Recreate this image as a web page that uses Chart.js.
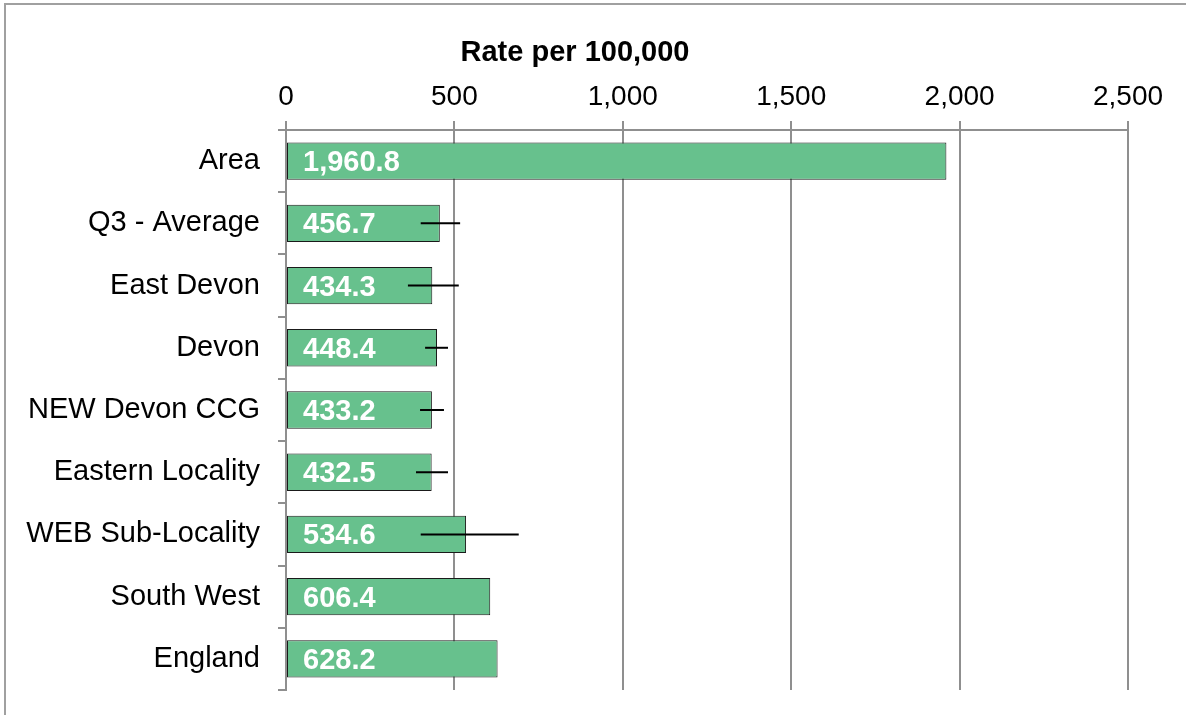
<!DOCTYPE html>
<html>
<head>
<meta charset="utf-8">
<script src="https://cdn.jsdelivr.net/npm/chart.js@4"></script>
<style>
  body { margin: 0; background: #fff; }
  #frame { position: absolute; left: 4px; top: 3px; width: 1300px; height: 800px;
           border-top: 2px solid #a0a0a0; border-left: 2px solid #a0a0a0; }
  #chart { position: absolute; left: 0; top: 0; }
</style>
</head>
<body>
<div id="frame"></div>
<canvas id="chart" width="1186" height="715"></canvas>
<script>
    const areas = ['Area', 'Q3 - Average', 'East Devon', 'Devon', 'NEW Devon CCG',
                   'Eastern Locality', 'WEB Sub-Locality', 'South West', 'England'];
    const rates = [1960.8, 456.7, 434.3, 448.4, 433.2, 432.5, 534.6, 606.4, 628.2];
    // confidence intervals, null where none drawn
    const lowerCI = [null, 400, 362, 413, 398, 386, 400, null, null];
    const upperCI = [null, 517, 513, 481, 469, 481, 691, null, null];
    const xTicks = [0, 500, 1000, 1500, 2000, 2500];
    const axisTitle = 'Rate per 100,000';

    const gridGrey = '#8f8f8f';
    const fontFamily = '"Liberation Sans", Arial, sans-serif';

    // horizontal error lines through each bar
    const errorBars = {
        id: 'errorBars',
        afterDatasetsDraw(chart) {
            const ctx = chart.ctx;
            const x = chart.scales.x;
            const meta = chart.getDatasetMeta(0);
            ctx.save();
            ctx.strokeStyle = '#000';
            ctx.lineWidth = 2;
            meta.data.forEach((bar, i) => {
                if (lowerCI[i] == null) return;
                ctx.beginPath();
                ctx.moveTo(x.getPixelForValue(lowerCI[i]), bar.y);
                ctx.lineTo(x.getPixelForValue(upperCI[i]), bar.y);
                ctx.stroke();
            });
            ctx.restore();
        }
    };

    // white value labels inside the start of each bar, plus the axis title
    const valueLabels = {
        id: 'valueLabels',
        afterDraw(chart) {
            const ctx = chart.ctx;
            const meta = chart.getDatasetMeta(0);
            ctx.save();
            ctx.fillStyle = '#fff';
            ctx.font = 'bold 29px ' + fontFamily;
            ctx.textBaseline = 'middle';
            ctx.textAlign = 'left';
            meta.data.forEach((bar, i) => {
                const txt = rates[i].toLocaleString('en-GB', { minimumFractionDigits: 1, maximumFractionDigits: 1 });
                ctx.fillText(txt, chart.chartArea.left + 17, bar.y + 2);
            });
            // title sits a little left of the plot centre, like the original
            ctx.fillStyle = '#000';
            ctx.textAlign = 'center';
            ctx.fillText(axisTitle, 575, 53);
            ctx.restore();
        }
    };

    Chart.defaults.font.family = fontFamily;
    Chart.defaults.color = '#000';

    new Chart(document.getElementById('chart').getContext('2d'), {
        type: 'bar',
        data: {
            labels: areas,
            datasets: [{
                data: rates,
                backgroundColor: '#67c18d',
                borderColor: '#1a1a1a',
                borderWidth: 1,
                borderSkipped: false,
                categoryPercentage: 1,
                barPercentage: 0.6
            }]
        },
        options: {
            indexAxis: 'y',
            responsive: false,
            devicePixelRatio: 1,
            animation: false,
            layout: { padding: { left: 0, top: 0, right: 58, bottom: 25 } },
            plugins: {
                legend: { display: false },
                tooltip: { enabled: false }
            },
            scales: {
                x: {
                    position: 'top',
                    min: 0,
                    max: 2500,
                    afterBuildTicks: scale => { scale.ticks = xTicks.map(v => ({ value: v })); },
                    ticks: {
                        font: { size: 28 },
                        padding: 7,
                        callback: v => v.toLocaleString('en-GB')
                    },
                    grid: { color: gridGrey, lineWidth: 2, tickLength: 9 },
                    border: { display: true, color: gridGrey, width: 2 },
                    afterFit: scale => {
                        scale.height = 130;
                        scale.paddingLeft = 0;
                        scale.paddingRight = 0;
                    }
                },
                y: {
                    ticks: { font: { size: 29 }, padding: 18 },
                    grid: { offset: true, drawOnChartArea: false, color: gridGrey, lineWidth: 2, tickLength: 8 },
                    border: { display: true, color: gridGrey, width: 2 },
                    afterFit: scale => {
                        scale.width = 286;
                        scale.paddingTop = 0;
                        scale.paddingBottom = 0;
                    }
                }
            }
        },
        plugins: [errorBars, valueLabels]
    });
</script>
</body>
</html>
